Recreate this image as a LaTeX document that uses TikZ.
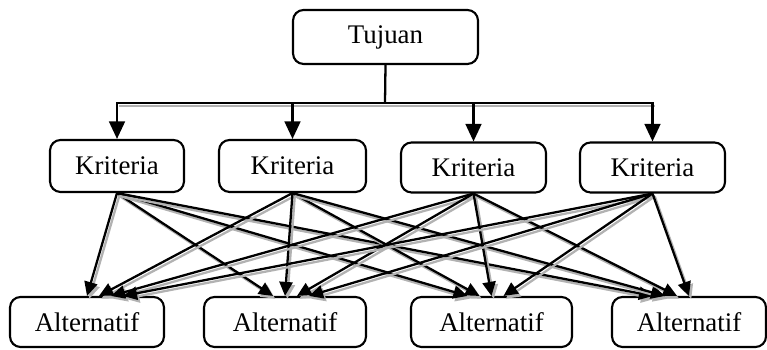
\documentclass[tikz,border=0pt]{standalone}
\usepackage{fontspec}
\setmainfont{Liberation Serif}
\usetikzlibrary{arrows.meta}
\usetikzlibrary{positioning}

\begin{document}
\begin{tikzpicture}[x=0.02cm, y=-0.02cm, font=\fontsize{15.3}{18}\selectfont,
    box/.style={draw, line width=1.2pt, rounded corners=6pt, minimum height=1cm, inner sep=2pt},
    wire/.style={line width=1.3pt},
    shade/.style={preaction={draw=gray!60, line width=1.3pt, transform canvas={shift={(1.3pt,-1.6pt)}}}},
    down/.style={wire, -{Triangle[length=10pt,width=9pt]}},
    link/.style={wire, shade, -{Triangle[length=8pt,width=7.5pt]}}]
    \useasboundingbox (0,0) rectangle (767,350);

    \node [box, minimum width=3.7cm, minimum height=1.08cm] (T) at (385.5,37) {Tujuan};
    \coordinate (bar) at (385,103);

    \node [box, minimum width=2.68cm, minimum height=1.04cm] (k1) at (117,166) {Kriteria};
    \node [box, minimum width=2.94cm, minimum height=1.04cm] (k2) at (292.5,166) {Kriteria};
    \node [box, minimum width=2.9cm] (k3) at (473.5,167.5) {Kriteria};
    \node [box, minimum width=2.9cm] (k4) at (652.5,167.5) {Kriteria};

    \node [box, minimum width=3.08cm] (a1) at (87,322) {Alternatif};
    \node [box, minimum width=3.24cm] (a2) at (285,322) {Alternatif};
    \node [box, minimum width=3.22cm] (a3) at (491.5,322) {Alternatif};
    \node [box, minimum width=3.08cm] (a4) at (689,322) {Alternatif};

    % goal to criteria
    \draw [wire] (T.south) -- (bar);
    \draw [wire, shade, line cap=rect] (bar -| k1.north) -- (bar -| k4.north);
    \foreach \i in {1,...,4}
        \draw [down] (bar -| k\i.north) -- (k\i.north);

    % criteria to alternatives
    \foreach \i in {1,...,4}
        \foreach \j in {1,...,4}
            \draw [link] (k\i.south) -- ([xshift={(\i-\j)*0.24cm}]a\j.north);
\end{tikzpicture}
\end{document}
